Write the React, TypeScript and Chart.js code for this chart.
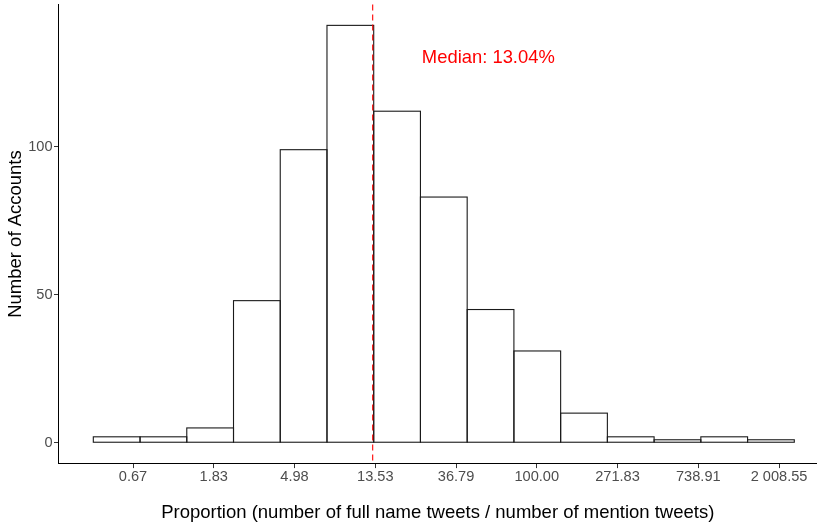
import React, { useEffect, useRef } from "react";
import { Chart, registerables } from "chart.js";

Chart.register(...registerables);

// Histogram bins: centres in natural-log units, and account counts
const BIN_CENTERS_LN = [
  -0.6022, -0.0235, 0.5552, 1.1339, 1.7126, 2.2913, 2.87, 3.4487, 4.0274,
  4.6061, 5.1848, 5.7635, 6.3422, 6.9209, 7.4996,
];
const COUNTS = [2, 2, 5, 48, 99, 141, 112, 83, 45, 31, 10, 2, 1, 2, 1];

// Axis ticks
const X_TICK_LN = [-0.4, 0.6, 1.6, 2.6, 3.6, 4.6, 5.6, 6.6, 7.6];
const X_TICK_LABELS = [
  "0.67",
  "1.83",
  "4.98",
  "13.53",
  "36.79",
  "100.00",
  "271.83",
  "738.91",
  "2 008.55",
];
const Y_TICKS = [0, 50, 100];

// Median annotation
const MEDIAN_PCT = 13.04;
const MEDIAN_LABEL = "Median: 13.04%";
const MEDIAN_LABEL_X_LN = 4.0;
const MEDIAN_LABEL_Y = 130;

const X_TITLE = "Proportion (number of full name tweets / number of mention tweets)";
const Y_TITLE = "Number of Accounts";

const FONT = "'Liberation Sans', Arial, Helvetica, sans-serif";

// Outline each bar (from the bar elements laid out by Chart.js) with a single
// centred stroke so neighbouring bins share one line, like ggplot.
const outlinePlugin = {
  id: "outlinePlugin",
  afterDatasetsDraw(chart: any) {
    const { ctx } = chart;
    const meta = chart.getDatasetMeta(0);
    ctx.save();
    ctx.strokeStyle = "#1A1A1A";
    ctx.lineWidth = 1.1;
    meta.data.forEach((bar: any) => {
      const { x, y, base, width } = bar.getProps(["x", "y", "base", "width"], true);
      ctx.strokeRect(x - width / 2, Math.min(y, base), width, Math.abs(base - y));
    });
    ctx.restore();
  },
};

const medianPlugin = {
  id: "medianPlugin",
  afterDatasetsDraw(chart: any) {
    const { ctx, chartArea, scales } = chart;
    const x = scales.x.getPixelForValue(Math.log(MEDIAN_PCT));
    ctx.save();
    ctx.strokeStyle = "#FF0000";
    ctx.lineWidth = 1.1;
    ctx.setLineDash([6, 4]);
    ctx.beginPath();
    ctx.moveTo(x, chartArea.top);
    ctx.lineTo(x, chartArea.bottom);
    ctx.stroke();
    ctx.setLineDash([]);
    ctx.fillStyle = "#FF0000";
    ctx.font = `18.4px ${FONT}`;
    ctx.textAlign = "center";
    ctx.textBaseline = "middle";
    ctx.fillText(
      MEDIAN_LABEL,
      scales.x.getPixelForValue(MEDIAN_LABEL_X_LN),
      scales.y.getPixelForValue(MEDIAN_LABEL_Y)
    );
    ctx.restore();
  },
};

export default function App() {
  const ref = useRef<HTMLCanvasElement | null>(null);

  useEffect(() => {
    if (!ref.current) return;
    const chart = new Chart(ref.current, {
      type: "bar",
      data: {
        datasets: [
          {
            data: BIN_CENTERS_LN.map((c, i) => ({ x: c, y: COUNTS[i] })),
            backgroundColor: "#FFFFFF",
            borderWidth: 0,
            barPercentage: 1,
            categoryPercentage: 1,
            inflateAmount: 0,
          } as any,
        ],
      },
      options: {
        animation: false,
        responsive: false,
        maintainAspectRatio: false,
        layout: { padding: { top: 4.5, right: 0, left: 0, bottom: 0 } },
        plugins: {
          legend: { display: false },
          tooltip: { enabled: false },
        },
        scales: {
          x: {
            type: "linear",
            min: -1.3226,
            max: 8.07,
            offset: false,
            grid: {
              offset: false,
              drawOnChartArea: false,
              drawTicks: true,
              tickLength: 4.5,
              color: "#333333",
              lineWidth: 1,
            },
            border: { display: true, color: "#000000", width: 1 },
            afterBuildTicks: (scale: any) => {
              scale.ticks = X_TICK_LN.map((v) => ({ value: v }));
            },
            afterFit: (scale: any) => {
              scale.height = 64.4;
              scale.paddingLeft = 0;
              scale.paddingRight = 0;
            },
            ticks: {
              autoSkip: false,
              maxRotation: 0,
              padding: 0,
              color: "#4D4D4D",
              font: { family: FONT, size: 14.6 },
              callback: (_v: any, i: number) => X_TICK_LABELS[i],
            },
            title: {
              display: true,
              text: X_TITLE,
              color: "#000000",
              font: { family: FONT, size: 18.5 },
              padding: { top: 0, bottom: 3.5 },
            },
          },
          y: {
            type: "linear",
            min: -7.05,
            max: 148.05,
            grid: {
              drawOnChartArea: false,
              drawTicks: true,
              tickLength: 4.5,
              color: "#333333",
              lineWidth: 1,
            },
            border: { display: true, color: "#000000", width: 1 },
            afterBuildTicks: (scale: any) => {
              scale.ticks = Y_TICKS.map((v) => ({ value: v }));
            },
            afterFit: (scale: any) => {
              scale.width = 58.5;
              scale.paddingTop = 0;
              scale.paddingBottom = 0;
            },
            ticks: {
              padding: 1.5,
              color: "#4D4D4D",
              font: { family: FONT, size: 14.6 },
              callback: (v: any) => String(v),
            },
            title: {
              display: true,
              text: Y_TITLE,
              color: "#000000",
              font: { family: FONT, size: 18.5 },
              padding: { top: 5, bottom: 0 },
            },
          },
        },
      },
      plugins: [outlinePlugin, medianPlugin],
    });
    return () => chart.destroy();
  }, []);

  return (
    <div style={{ position: "fixed", left: 0, top: 0, width: 817, height: 528, background: "#fff" }}>
      <canvas ref={ref} width={817} height={528} style={{ width: 817, height: 528 }} />
    </div>
  );
}
